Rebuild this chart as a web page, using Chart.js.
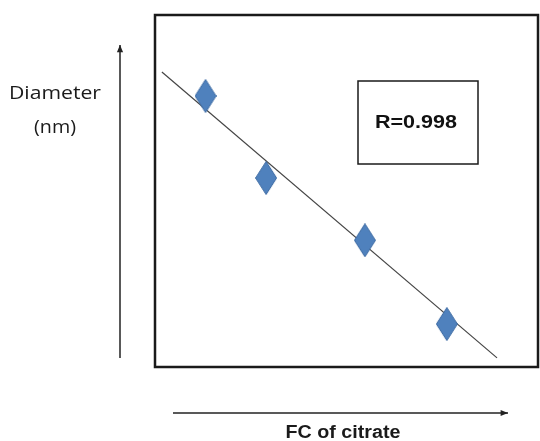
<!DOCTYPE html>
<html>
<head>
<meta charset="utf-8">
<script src="https://cdn.jsdelivr.net/npm/chart.js@4/dist/chart.umd.min.js"></script>
<style>
  html, body { margin: 0; padding: 0; background: #fff; overflow: hidden; }
  #chart { display: block; }
</style>
</head>
<body>
<canvas id="chart" width="540" height="441"></canvas>
<script>
// Messpunkte (willkürliche Einheiten, keine Achsenbeschriftung im Original)
var citrateFC = [1.32, 2.90, 5.48, 7.62];
var diameterNm = [7.70, 5.37, 3.60, 1.22];

// Regressionsgerade: Anfangs- und Endpunkt
var fitX = [0.18, 8.93];
var fitY = [8.38, 0.26];

var rLabel = "R=0.998";
var yLabel = ["Diameter", "(nm)"];
var xLabel = "FC of citrate";

// Gestreckte Raute als Punktsymbol (wie im Excel-Original)
function makeDiamond(w, h) {
    var c = document.createElement("canvas"),
        g;
    c.width = w;
    c.height = h;
    g = c.getContext("2d");
    g.beginPath();
    g.moveTo(w / 2, 0.5);
    g.lineTo(w - 0.5, h / 2);
    g.lineTo(w / 2, h - 0.5);
    g.lineTo(0.5, h / 2);
    g.closePath();
    g.fillStyle = "#4F81BD";
    g.fill();
    g.strokeStyle = "#3D6BA3";
    g.lineWidth = 1;
    g.stroke();
    return c;
}

// Text horizontal gestreckt auf eine Zielbreite zeichnen
function stretchText(ctx, text, cx, cy, width, font, color) {
    var w;
    ctx.save();
    ctx.font = font;
    ctx.fillStyle = color;
    ctx.textAlign = "center";
    ctx.textBaseline = "middle";
    w = ctx.measureText(text).width;
    ctx.translate(cx, cy);
    ctx.scale(width / w, 1);
    ctx.fillText(text, 0, 0);
    ctx.restore();
}

function arrow(ctx, x1, y1, x2, y2) {
    var a = Math.atan2(y2 - y1, x2 - x1),
        len = 8;
    ctx.save();
    ctx.strokeStyle = "#222";
    ctx.fillStyle = "#222";
    ctx.lineWidth = 1.5;
    ctx.beginPath();
    ctx.moveTo(x1, y1);
    ctx.lineTo(x2, y2);
    ctx.stroke();
    ctx.beginPath();
    ctx.moveTo(x2, y2);
    ctx.lineTo(x2 - len * Math.cos(a - 0.4), y2 - len * Math.sin(a - 0.4));
    ctx.lineTo(x2 - len * Math.cos(a + 0.4), y2 - len * Math.sin(a + 0.4));
    ctx.closePath();
    ctx.fill();
    ctx.restore();
}

var decorPlugin = {
    id: "decor",
    afterDraw: function (chart) {
        var ctx = chart.ctx,
            area = chart.chartArea;

        // Rahmen des Diagramms
        ctx.save();
        ctx.strokeStyle = "#1a1a1a";
        ctx.lineWidth = 2.5;
        ctx.strokeRect(area.left, area.top, area.right - area.left, area.bottom - area.top);

        // Kasten mit Korrelationskoeffizient
        ctx.lineWidth = 1.5;
        ctx.strokeRect(358, 81, 120, 83);
        ctx.restore();
        stretchText(ctx, rLabel, 416, 123, 82, "bold 19px 'Liberation Sans', Arial, sans-serif", "#111");

        // Pfeile und Achsentitel
        arrow(ctx, 120, 358, 120, 45);
        arrow(ctx, 173, 413, 508, 413);
        stretchText(ctx, yLabel[0], 55, 94, 92, "18px 'Open Sans', 'Liberation Sans', sans-serif", "#1a1a1a");
        stretchText(ctx, yLabel[1], 55, 128, 42, "18px 'Open Sans', 'Liberation Sans', sans-serif", "#1a1a1a");
        stretchText(ctx, xLabel, 343, 433, 115, "bold 18px 'Liberation Sans', Arial, sans-serif", "#1a1a1a");
    }
};

var diamond = makeDiamond(22, 34);

new Chart(document.getElementById("chart"), {
    type: "scatter",
    data: {
        datasets: [
            {
                data: citrateFC.map(function (x, i) { return { x: x, y: diameterNm[i] }; }),
                pointStyle: diamond,
                pointRadius: 12,
                order: 0
            },
            {
                type: "line",
                data: fitX.map(function (x, i) { return { x: x, y: fitY[i] }; }),
                borderColor: "#444",
                borderWidth: 1.2,
                pointRadius: 0,
                fill: false,
                order: 1
            }
        ]
    },
    options: {
        responsive: false,
        animation: false,
        layout: { autoPadding: false, padding: { left: 155, top: 15, right: 2, bottom: 74 } },
        plugins: { legend: { display: false }, tooltip: { enabled: false } },
        scales: {
            x: { type: "linear", min: 0, max: 10, display: false },
            y: { type: "linear", min: 0, max: 10, display: false }
        }
    },
    plugins: [decorPlugin]
});
</script>
</body>
</html>
